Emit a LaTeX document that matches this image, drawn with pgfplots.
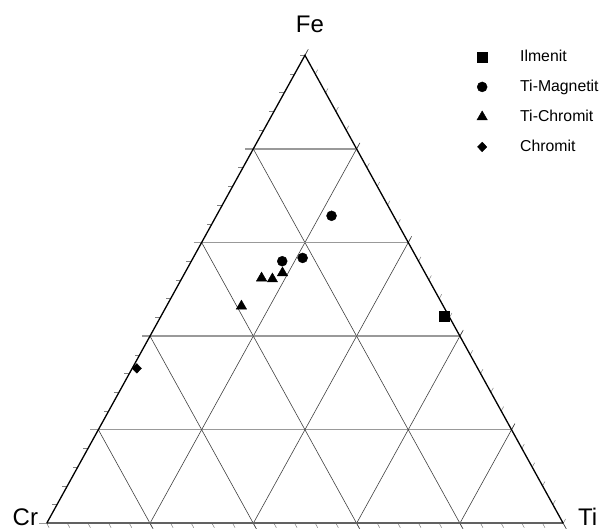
\documentclass[border=0pt]{standalone}
\usepackage{fontspec}
\setmainfont{Liberation Sans}
\usepackage{pgfplots}
\usepackage{pgfplotstable}
\pgfplotsset{compat=1.18}

\definecolor{hgrid}{gray}{0.6}
\definecolor{dgrid}{gray}{0.25}
\definecolor{tickc}{gray}{0.5}
\definecolor{basec}{gray}{0.38}

% compositions in percent: Fe, Ti, Cr
\pgfplotstableread{
Fe Ti Cr
44.2 54.9 0.9
}\ilmenit
\pgfplotstableread{
Fe Ti Cr
65.7 22.3 12.0
56.7 21.2 22.1
56.0 17.6 26.4
}\timag
\pgfplotstableread{
Fe Ti Cr
46.4 14.5 39.1
52.4 15.4 32.2
52.2 17.6 30.2
53.5 18.9 27.6
}\tichr
\pgfplotstableread{
Fe Ti Cr
33.1 0.9 66.0
}\chromit

\begin{document}
\begin{tikzpicture}
\begin{axis}[
  at={(46.7pt,5.7pt)}, anchor=south west,
  scale only axis, width=516.5pt, height=468pt,
  xmin=0, xmax=100, ymin=0, ymax=100,
  axis lines=none, clip=false,
  legend style={draw=none, fill=none, inner sep=0pt,
    at={(axis cs:81.37,102.9)}, anchor=north west,
    font=\fontsize{15.8}{17}\selectfont, row sep=0pt, column sep=0pt,
    nodes={draw=none, fill=none, inner sep=2pt}},
  legend cell align=left,
  legend image code/.code={%
    \path[draw=none, fill=none] (-15pt,-15pt) rectangle (36pt,15pt);
    \draw[#1] plot coordinates {(0pt,0pt)};},
]
% minor ticks
\pgfplotsinvokeforeach{0,4,...,100}{
  \draw[tickc, line width=0.5pt] (axis cs:{#1/2},#1) -- ++(180:5pt);
  \draw[tickc, line width=0.5pt] (axis cs:{#1+(100-#1)/2},{100-#1}) -- ++(61.1:5pt);
  \draw[tickc, line width=0.5pt] (axis cs:{100-#1},0) -- ++(-61.1:5pt);
}
% grid lines
\pgfplotsinvokeforeach{20,40,60,80}{
  \draw[hgrid, line width=1.3pt] (axis cs:{#1/2},#1) ++(180:8pt) -- (axis cs:{100-#1/2},#1);
  \draw[dgrid, line width=0.6pt] (axis cs:#1,0) -- (axis cs:{#1+(100-#1)/2},{100-#1}) -- ++(61.1:7pt);
  \draw[dgrid, line width=0.6pt] (axis cs:{(100-#1)/2},{100-#1}) -- (axis cs:{100-#1},0) -- ++(-61.1:7pt);
}
% corner extensions
\draw[hgrid, line width=1.3pt] (axis cs:0,0) -- ++(180:8pt);
\draw[dgrid, line width=0.6pt] (axis cs:100,0) -- ++(-61.1:7pt);
\draw[dgrid, line width=0.6pt] (axis cs:50,100) -- ++(61.1:7pt);
% edges
\draw[basec, line width=2pt] (axis cs:0,0) -- (axis cs:100,0);
\draw[black, line width=1.3pt] (axis cs:0,0) -- (axis cs:50,100) -- (axis cs:100,0);

\addplot[only marks, mark=square*, mark size=5.2pt, black]
  table[x expr=\thisrow{Ti}+0.5*\thisrow{Fe}, y expr=\thisrow{Fe}] {\ilmenit};
\addlegendentry{Ilmenit}
\addplot[only marks, mark=*, mark size=5pt, black]
  table[x expr=\thisrow{Ti}+0.5*\thisrow{Fe}, y expr=\thisrow{Fe}] {\timag};
\addlegendentry{Ti-Magnetit}
\addplot[only marks, mark=triangle*, mark size=6pt, black]
  table[x expr=\thisrow{Ti}+0.5*\thisrow{Fe}, y expr=\thisrow{Fe}] {\tichr};
\addlegendentry{Ti-Chromit}
\addplot[only marks, mark=diamond*, mark size=4.8pt, mark options={xscale=1.3}, black]
  table[x expr=\thisrow{Ti}+0.5*\thisrow{Fe}, y expr=\thisrow{Fe}] {\chromit};
\addlegendentry{Chromit}

\node[anchor=base, inner sep=0pt, xshift=5pt, yshift=22.7pt, font=\fontsize{24}{24}\selectfont] at (axis cs:50,100) {Fe};
\node[anchor=base east, inner sep=0pt, xshift=-8.5pt, yshift=-1.8pt, font=\fontsize{24}{24}\selectfont] at (axis cs:0,0) {Cr};
\node[anchor=base west, inner sep=0pt, xshift=14.7pt, yshift=-1.8pt, font=\fontsize{24}{24}\selectfont] at (axis cs:100,0) {Ti};
\end{axis}
\pgfresetboundingbox
\useasboundingbox (0,0) rectangle (603pt,529pt);
\end{tikzpicture}
\end{document}
